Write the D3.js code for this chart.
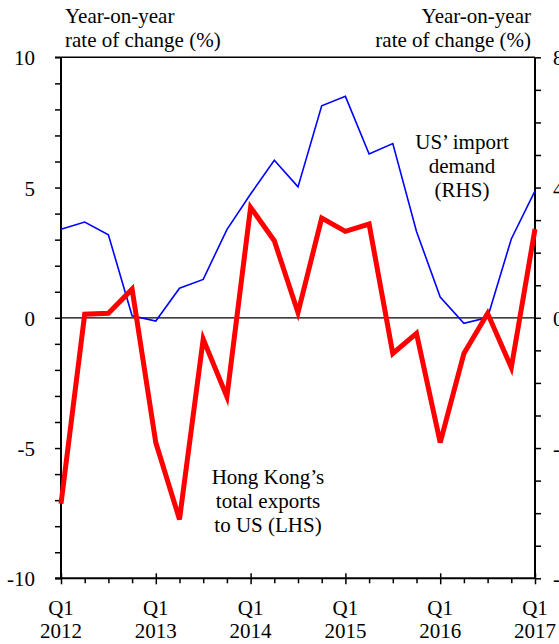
<!DOCTYPE html>
<html>
<head>
<meta charset="utf-8">
<script src="https://cdn.jsdelivr.net/npm/d3@7"></script>
<style>
  html, body { margin: 0; padding: 0; background: #fff; }
  svg { display: block; }
  text { font-family: "Liberation Serif", "Times New Roman", serif; font-size: 21px; fill: #000; }
</style>
</head>
<body>
<svg id="chart" width="559" height="644"></svg>
<script>
// ---- Data ----
const quarters = ["2012Q1","2012Q2","2012Q3","2012Q4","2013Q1","2013Q2","2013Q3","2013Q4",
  "2014Q1","2014Q2","2014Q3","2014Q4","2015Q1","2015Q2","2015Q3","2015Q4",
  "2016Q1","2016Q2","2016Q3","2016Q4","2017Q1"];
// Hong Kong's total exports to US (LHS), yoy %
const hkExports = [-7.14, 0.14, 0.17, 1.1, -4.79, -7.74, -0.82, -3.03,
  4.24, 2.96, 0.2, 3.83, 3.32, 3.6, -1.37, -0.6,
  -4.79, -1.37, 0.17, -1.91, 3.41];
// US' import demand (RHS), yoy %
const usImports = [2.72, 2.94, 2.55, 0.06, -0.1, 0.91, 1.18, 2.71,
  3.8, 4.84, 4.02, 6.51, 6.8, 5.03, 5.35, 2.65,
  0.64, -0.17, 0.01, 2.42, 3.9];
const leftTicks = d3.range(-10, 11, 1);
const leftLabels = [-10, -5, 0, 5, 10];
const rightTicks = d3.range(-8, 9, 1);
const rightLabels = [-8, -4, 0, 4, 8];
const yearLabels = ["2012","2013","2014","2015","2016","2017"];
const titleLines = ["Year-on-year", "rate of change (%)"];
const usLabel = ["US\u2019 import", "demand", "(RHS)"];
const hkLabel = ["Hong Kong\u2019s", "total exports", "to US (LHS)"];

// ---- Layout ----
const L = 61, R = 535, T = 57.3, B = 578.3;
const svg = d3.select("#chart");

const x = d3.scalePoint().domain(quarters).range([L, R]);
const yL = d3.scaleLinear().domain([-10, 10]).range([B, T]);
const yR = d3.scaleLinear().domain([-8, 8]).range([B, T]);

// Top border
svg.append("line").attr("x1", L - 6).attr("x2", R).attr("y1", T).attr("y2", T)
  .attr("stroke", "#000").attr("stroke-width", 1.6);

// Zero line
svg.append("line").attr("x1", L).attr("x2", R).attr("y1", yL(0)).attr("y2", yL(0))
  .attr("stroke", "#000").attr("stroke-width", 1.3);

// Left axis
const gL = svg.append("g").attr("transform", `translate(${L},0)`)
  .call(d3.axisLeft(yL).tickValues(leftTicks).tickSize(6).tickPadding(20)
    .tickFormat(d => leftLabels.includes(d) ? String(d) : ""));
gL.select(".domain").attr("stroke-width", 2).attr("d", `M0,${T}V${B}`);
gL.selectAll(".tick line").attr("stroke-width", 1.5);
gL.selectAll(".tick text").attr("font-size", 21).attr("font-family", "Liberation Serif").attr("dy", "0.36em");

// Right axis
const gR = svg.append("g").attr("transform", `translate(${R},0)`)
  .call(d3.axisRight(yR).tickValues(rightTicks).tickSize(6).tickPadding(12)
    .tickFormat(d => rightLabels.includes(d) ? String(d) : ""));
gR.select(".domain").attr("stroke-width", 2).attr("d", `M0,${T}V${B}`);
gR.selectAll(".tick line").attr("stroke-width", 1.5);
gR.selectAll(".tick text").attr("font-size", 21).attr("font-family", "Liberation Serif").attr("dy", "0.36em");

// Bottom axis
const gB = svg.append("g").attr("transform", `translate(0,${B})`)
  .call(d3.axisBottom(x).tickSize(5).tickFormat(""));
gB.select(".domain").attr("stroke-width", 2).attr("d", `M${L - 6},0H${R}`);
gB.selectAll(".tick line").attr("stroke-width", 1.5)
  .attr("y1", d => d.endsWith("Q1") ? -5 : 0)
  .attr("y2", d => d.endsWith("Q1") ? 6 : 5);

// Bottom labels
const majors = quarters.filter(q => q.endsWith("Q1"));
const lab = svg.append("g");
majors.forEach((q, i) => {
  lab.append("text").attr("x", x(q)).attr("y", 615).attr("text-anchor", "middle").text("Q1");
  lab.append("text").attr("x", x(q)).attr("y", 638).attr("text-anchor", "middle").text(yearLabels[i]);
});

// Axis titles
titleLines.forEach((t, i) => {
  svg.append("text").attr("x", 65).attr("y", 23 + i * 24).text(t);
  svg.append("text").attr("x", 531).attr("y", 23 + i * 24).attr("text-anchor", "end").text(t);
});

// Lines
const lineL = d3.line().x((d, i) => x(quarters[i])).y(d => yL(d));
const lineR = d3.line().x((d, i) => x(quarters[i])).y(d => yR(d));

svg.append("path").datum(usImports).attr("d", lineR)
  .attr("fill", "none").attr("stroke", "#0000FF").attr("stroke-width", 1.6);
svg.append("path").datum(hkExports).attr("d", lineL)
  .attr("fill", "none").attr("stroke", "#FF0000").attr("stroke-width", 5)
  .attr("stroke-linejoin", "miter");

// Annotations
usLabel.forEach((t, i) => {
  svg.append("text").attr("x", 462).attr("y", 149 + i * 24).attr("text-anchor", "middle").text(t);
});
hkLabel.forEach((t, i) => {
  svg.append("text").attr("x", 268).attr("y", 484 + i * 24).attr("text-anchor", "middle").text(t);
});
</script>
</body>
</html>
